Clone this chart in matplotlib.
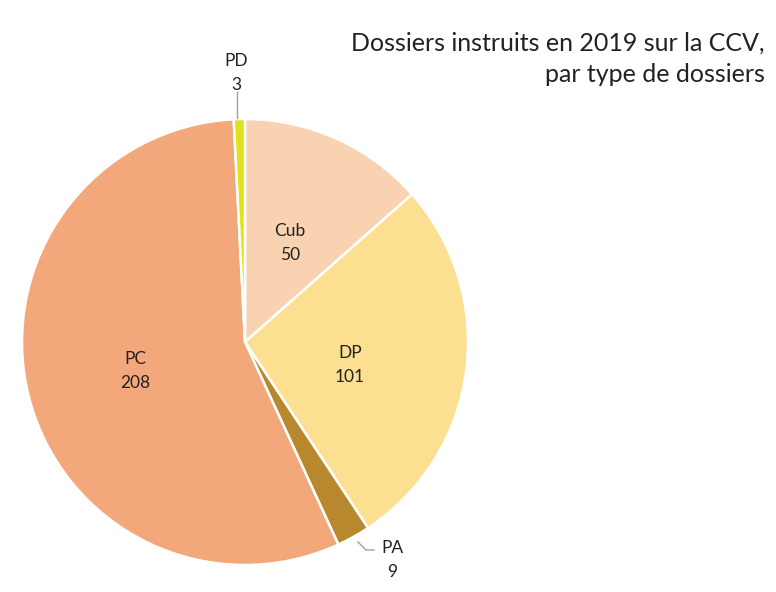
import matplotlib
matplotlib.use("Agg")
import matplotlib.pyplot as plt

categories = ["Cub", "DP", "PA", "PC", "PD"]
values = [50, 101, 9, 208, 3]
colors = ["#F9D3B1", "#FDDF92", "#B8882F", "#F3A87B", "#E2E21C"]

# label positions (pixel coordinates of reference), converted below
label_px = {"Cub": (290, 243), "DP": (350, 365), "PC": (135, 371),
            "PD": (236, 73), "PA": (392, 560)}

W, H = 776, 592
cx, cy, R = 245, 342, 223

plt.rcParams['font.family'] = ['Lato', 'DejaVu Sans']
fig = plt.figure(figsize=(W / 100, H / 100), dpi=100)
ax = fig.add_axes([(cx - R) / W, (H - cy - R) / H, 2 * R / W, 2 * R / H])
ax.pie(values, colors=colors, startangle=90, counterclock=False,
       wedgeprops=dict(edgecolor="white", linewidth=1.8))
ax.set_xlim(-1, 1)
ax.set_ylim(-1, 1)
ax.set_aspect("equal")
ax.axis("off")

def to_data(px, py):
    return (px - cx) / R, (cy - py) / R

for cat, val in zip(categories, values):
    x, y = to_data(*label_px[cat])
    ax.text(x, y, f"{cat}\n{val}", ha="center", va="center", fontsize=12.5,
            color="#222222", linespacing=1.55, clip_on=False)

# leader lines
x0, y0 = to_data(237, 92)
x1, y1 = to_data(237, 118)
ax.plot([x0, x1], [y0, y1], color="#A0A0A0", lw=1, clip_on=False)
x0, y0 = to_data(358, 542)
x1, y1 = to_data(366, 550)
x2, y2 = to_data(374, 550)
ax.plot([x0, x1, x2], [y0, y1, y2], color="#A0A0A0", lw=1, clip_on=False)

fig.text(765 / W, 1 - 32 / H, "Dossiers instruits en 2019 sur la CCV,\npar type de dossiers",
         ha="right", va="top", fontsize=18, color="#222222", linespacing=1.4)

fig.savefig("out.png", dpi=100)
